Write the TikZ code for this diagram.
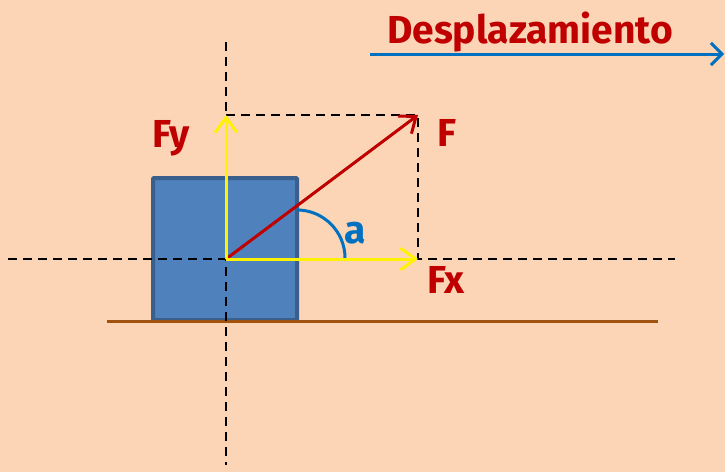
\documentclass[tikz,border=0pt]{standalone}
\usepackage{fontspec}
\setmainfont{Fira Sans}
\usetikzlibrary{arrows.meta}
\definecolor{bg}{HTML}{FBD5B5}
\definecolor{blockfill}{HTML}{4F81BD}
\definecolor{blockline}{HTML}{3A5F8C}
\definecolor{ground}{HTML}{A0520F}
\definecolor{darkred}{HTML}{C00000}
\definecolor{arcblue}{HTML}{0070C0}
\tikzset{
  guide/.style={black, line width=2.4pt, dash pattern=on 9pt off 6pt},
  yellowvec/.style={yellow, line width=3pt, -{Straight Barb[length=15pt,width=22pt,line width=3pt]}},
  redvec/.style={darkred, line width=3pt, -{Straight Barb[length=14pt,width=22pt,line width=3pt]}},
  lbl/.style={font=\bfseries\fontsize{39}{41}\selectfont, text=darkred, inner sep=0pt},
}
\begin{document}
\begin{tikzpicture}[x=1pt,y=-1pt]
\fill[bg] (0,0) rectangle (725,472);
\useasboundingbox (0,0) rectangle (725,472);
% block and ground
\node[draw=blockline, fill=blockfill, line width=4pt, minimum width=144pt, minimum height=142pt, inner sep=0pt, rounded corners=1pt] (block) at (225,249) {};
\draw[ground, line width=3pt] (107,321) coordinate (g1) -- (658,321) coordinate (g2);
% guide lines
\coordinate (O) at (226,259);
\coordinate (vtop) at (226,42);
\coordinate (vbot) at (226,465);
\coordinate (hl) at (8,259);
\coordinate (hr) at (675,259);
\coordinate (Ftip) at (418,115);
\coordinate (Fytip) at (226,115);
\coordinate (Fxtip) at (418,259);
\draw[guide] (vtop) -- (vbot);
\draw[guide] (hl) -- (hr);
\draw[guide] (Fytip) -- (Ftip) -- (Fxtip);
% angle arc
\draw[arcblue, line width=3pt] (297,210) arc[start angle=90, end angle=0, radius=48pt];
% vectors
\draw[redvec] (O) -- (Ftip);
\draw[yellowvec] (O) -- (Fytip);
\draw[yellowvec] (O) -- (Fxtip);
% displacement
\coordinate (d1) at (370,54);
\coordinate (d2) at (724,54);
\draw[arcblue, line width=3pt, -{Straight Barb[length=11pt,width=22pt,line width=3pt]}] (d1) -- (d2);
% labels
\node[lbl, anchor=base] (desp) at (530,43) {Desplazamiento};
\node[lbl, anchor=base] (fy) at (171,147) {Fy};
\node[lbl, anchor=base] (f) at (447,146) {F};
\node[lbl, anchor=base] (fx) at (446,293) {Fx};
\node[lbl, anchor=base, text=arcblue] (alpha) at (355,243) {a};
\end{tikzpicture}
\end{document}
